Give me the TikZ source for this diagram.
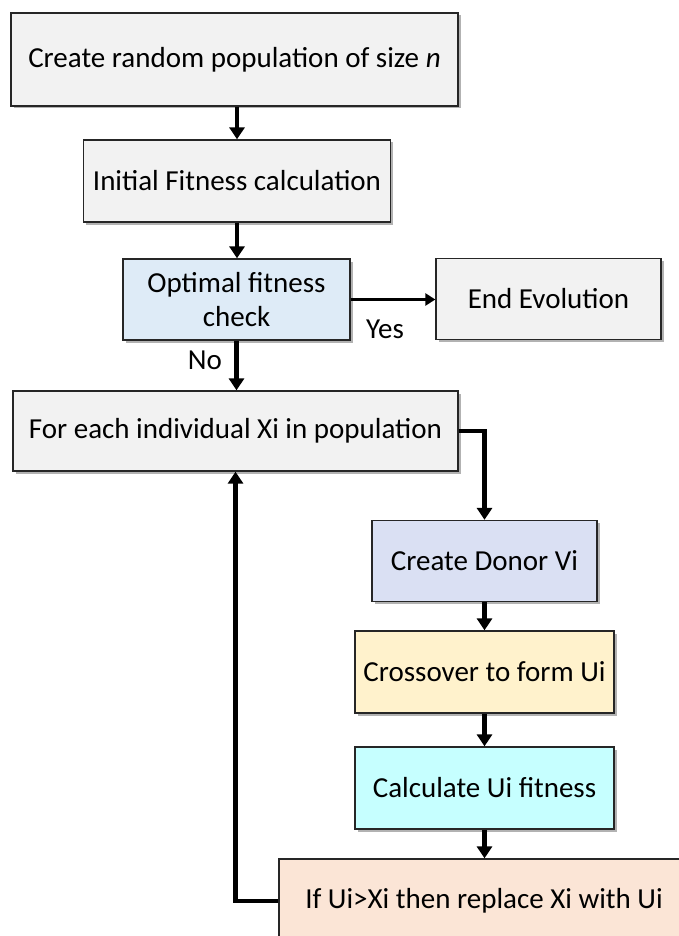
\documentclass[tikz,border=0pt]{standalone}
\usepackage{fontspec}
\setmainfont{Carlito}
\usetikzlibrary{arrows.meta,shadows}
\definecolor{boxgray}{HTML}{F2F2F2}
\definecolor{optblue}{HTML}{DEEBF7}
\definecolor{donorblue}{HTML}{DAE0F3}
\definecolor{crossyellow}{HTML}{FFF2CC}
\definecolor{calccyan}{HTML}{C6FFFF}
\definecolor{ifpeach}{HTML}{FBE5D6}
\begin{document}
\begin{tikzpicture}[x=1pt,y=-1pt,
  box/.style={draw=black!85, line width=1.3pt, font=\fontsize{29}{34}\selectfont,
    inner sep=0pt, align=center,
    drop shadow={shadow xshift=2.5pt,shadow yshift=-2.5pt,fill=black,opacity=0.3}},
  arr/.style={line width=4.5pt, -{Triangle[length=12pt,width=15pt]}},
  thinarr/.style={line width=3pt, -{Triangle[length=10pt,width=12pt]}},
  lbl/.style={font=\fontsize{29}{34}\selectfont, inner sep=0pt}]
\useasboundingbox (0,0) rectangle (679,936);
\clip (0,0) rectangle (679,936);
\fill[white] (0,0) rectangle (679,936);

\node[box, fill=boxgray, minimum width=447pt, minimum height=93pt] (n1) at (234.5,59.5) {Create random population of size \textit{n}};
\node[box, fill=boxgray, minimum width=307pt, minimum height=82pt] (n2) at (237,181) {Initial Fitness calculation};
\node[box, fill=optblue, minimum width=227pt, minimum height=81pt] (n3) at (236.5,299.5) {Optimal fitness\\check};
\node[box, fill=boxgray, minimum width=225pt, minimum height=81pt] (end) at (548.5,299) {End Evolution};
\node[box, fill=boxgray, minimum width=445pt, minimum height=80pt] (n4) at (235.5,431) {For each individual Xi in population};
\node[box, fill=donorblue, minimum width=225pt, minimum height=81pt] (donor) at (484.5,561) {Create Donor Vi};
\node[box, fill=crossyellow, minimum width=259pt, minimum height=82pt] (cross) at (484.5,672) {Crossover to form Ui};
\node[box, fill=calccyan, minimum width=259pt, minimum height=82pt] (calc) at (484.5,788) {Calculate Ui fitness};
\node[box, fill=ifpeach, minimum width=410pt, minimum height=84pt] (ifn) at (484,901) {If Ui>Xi then replace Xi with Ui};

\node[lbl] (yes) at (385,329) {Yes};
\node[lbl] (no) at (205,360) {No};

\draw[arr] (n1.south -| n2.north) -- (n2.north);
\draw[arr] (n2.south) -- (n2.south |- n3.north);
\draw[thinarr] (n3.east) -- (n3.east -| end.west);
\draw[arr] (n3.south) -- (n3.south |- n4.north);
\draw[arr] (n4.east) -| (donor.north);
\draw[arr] (donor.south) -- (cross.north);
\draw[arr] (cross.south) -- (calc.north);
\draw[arr] (calc.south) -- (calc.south |- ifn.north);
\draw[arr] (ifn.west) -| (n4.south);
\end{tikzpicture}
\end{document}
